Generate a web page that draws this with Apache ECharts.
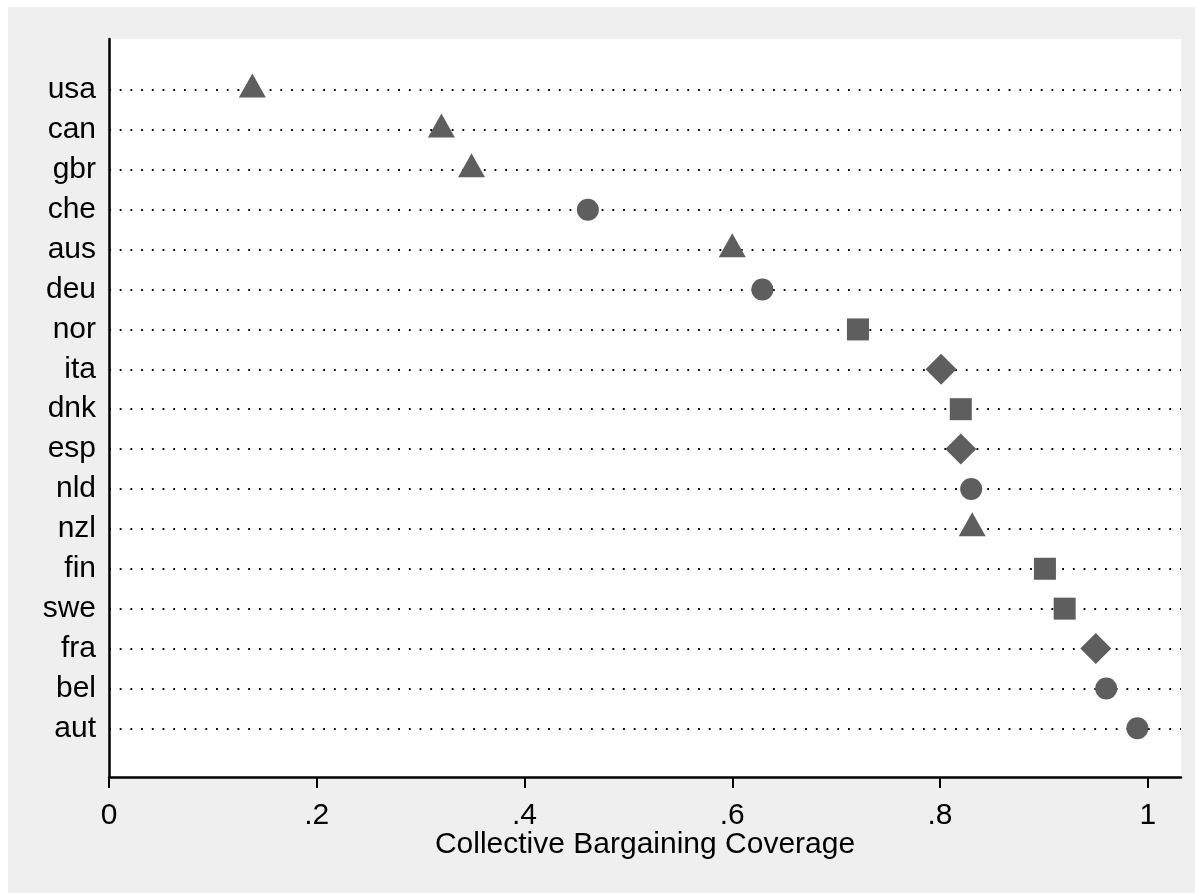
<!DOCTYPE html>
<html>
<head>
<meta charset="utf-8">
<script src="https://cdn.jsdelivr.net/npm/echarts@6/dist/echarts.min.js"></script>
<style>
  html, body { margin: 0; padding: 0; background: #ffffff; overflow: hidden; width: 1195px; height: 893px; }
  #chart { position: absolute; left: 8px; top: 7px; width: 1187px; height: 886px; background: #efefef; }
</style>
</head>
<body>
<div id="chart"></div>
<script>
// ---- data ----
const countries = ['usa','can','gbr','che','aus','deu','nor','ita','dnk','esp','nld','nzl','fin','swe','fra','bel','aut'];
const coverage  = [0.138,0.320,0.349,0.461,0.600,0.629,0.721,0.801,0.820,0.820,0.830,0.831,0.901,0.920,0.950,0.960,0.990];
const groups    = ['tri','tri','tri','circ','tri','circ','sq','dia','sq','dia','circ','tri','sq','sq','dia','circ','circ'];
const xTicks    = [0, 0.2, 0.4, 0.6, 0.8, 1];
const xTitle    = 'Collective Bargaining Coverage';

const FONT = "'Liberation Sans', Arial, Helvetica, sans-serif";
const MARK = '#5e5e5e';

const symbolDefs = {
  tri:  { symbol: 'triangle', size: [27, 24], offset: [0, -4.5] },
  circ: { symbol: 'circle',   size: 22,       offset: [0, 0] },
  sq:   { symbol: 'rect',     size: 22,       offset: [0, 0] },
  dia:  { symbol: 'diamond',  size: [31, 31], offset: [0, 0] }
};

function pointsFor(g) {
  const out = [];
  countries.forEach((c, i) => { if (groups[i] === g) out.push([coverage[i], i]); });
  return out;
}

const markerSeries = Object.keys(symbolDefs).map(g => ({
  type: 'scatter',
  name: g,
  data: pointsFor(g),
  symbol: symbolDefs[g].symbol,
  symbolSize: symbolDefs[g].size,
  symbolOffset: symbolDefs[g].offset,
  itemStyle: { color: MARK, opacity: 1 },
  z: 5,
  silent: true,
  animation: false
}));

const lineSeries = {
  type: 'scatter',
  data: [],
  z: 1,
  silent: true,
  animation: false,
  markLine: {
    silent: true,
    animation: false,
    symbol: ['none', 'none'],
    label: { show: false },
    lineStyle: { color: '#000', width: 1.8, type: [1.8, 8.91], opacity: 1 },
    emphasis: { disabled: true },
    data: countries.map((c, i) => ({ yAxis: i }))
  }
};

const chart = echarts.init(document.getElementById('chart'), null, { renderer: 'canvas' });
chart.setOption({
  backgroundColor: 'transparent',
  animation: false,
  grid: {
    left: 101, top: 32, right: 14, bottom: 116,
    show: true, backgroundColor: '#ffffff', borderWidth: 0
  },
  xAxis: {
    type: 'value',
    min: 0, max: 1.032,
    name: xTitle,
    nameLocation: 'middle',
    nameGap: 53,
    nameMoveOverlap: false,
    nameTextStyle: { fontFamily: FONT, fontSize: 30, color: '#000' },
    axisLine: { show: true, onZero: false, lineStyle: { color: '#000', width: 2.5 } },
    axisTick: { show: true, length: 11, inside: false, customValues: xTicks, lineStyle: { color: '#000', width: 2 } },
    axisLabel: {
      customValues: xTicks,
      margin: 24,
      fontFamily: FONT, fontSize: 30, color: '#000',
      formatter: v => {
        const s = String(Number(v.toFixed(2)));
        return s.replace(/^0\./, '.');
      }
    },
    splitLine: { show: false }
  },
  yAxis: {
    type: 'value',
    inverse: true,
    min: -1.28, max: 17.22,
    axisLine: { show: true, onZero: false, lineStyle: { color: '#000', width: 2.5 } },
    axisTick: { show: false },
    axisLabel: {
      customValues: countries.map((c, i) => i),
      margin: 13,
      fontFamily: FONT, fontSize: 30, color: '#000',
      formatter: v => countries[Math.round(v)] || ''
    },
    splitLine: { show: false }
  },
  series: [lineSeries].concat(markerSeries)
});
</script>
</body>
</html>
